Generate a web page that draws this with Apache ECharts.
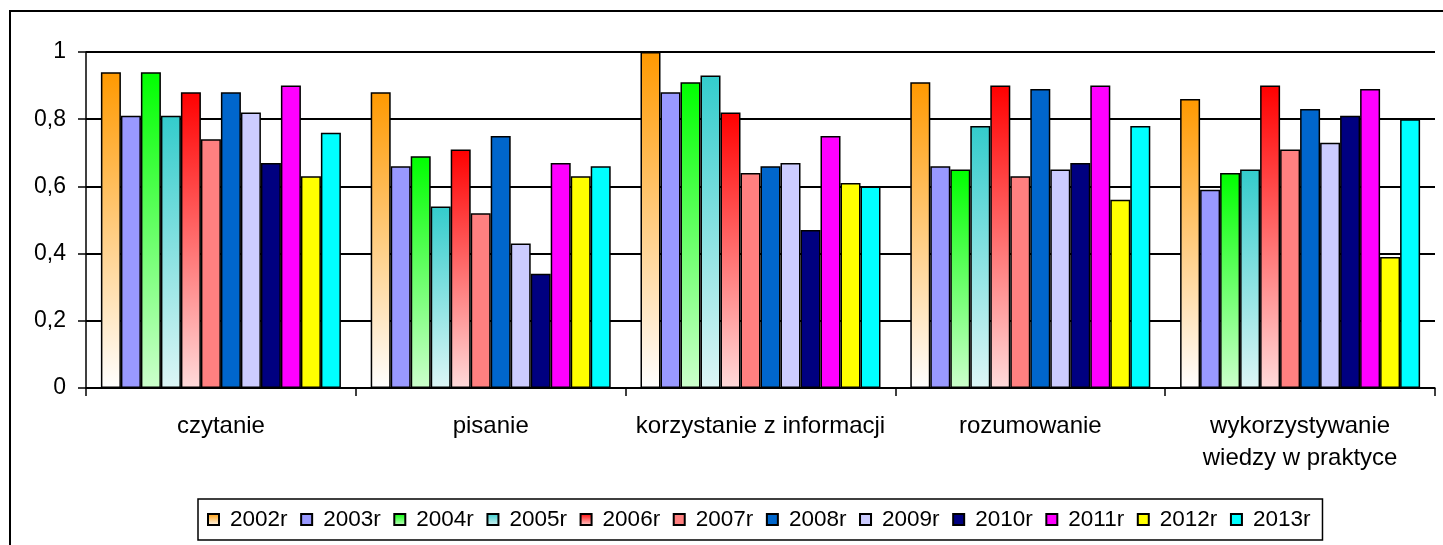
<!DOCTYPE html>
<html>
<head>
<meta charset="utf-8">
<script src="https://cdn.jsdelivr.net/npm/echarts@6/dist/echarts.min.js"></script>
<style>
  html, body { margin: 0; padding: 0; background: #fff; }
  #chart { width: 1443px; height: 545px; }
</style>
</head>
<body>
<div id="chart"></div>
<script>
// kategorie i lata
const categories = ['czytanie', 'pisanie', 'korzystanie z informacji', 'rozumowanie', 'wykorzystywanie\nwiedzy w praktyce'];
const years = ['2002r', '2003r', '2004r', '2005r', '2006r', '2007r', '2008r', '2009r', '2010r', '2011r', '2012r', '2013r'];
const yTicks = [0, 0.2, 0.4, 0.6, 0.8, 1];

// wartosci dla kazdego roku (kolejnosc jak categories)
const v2002 = [0.94, 0.88, 1.00, 0.91, 0.86];
const v2003 = [0.81, 0.66, 0.88, 0.66, 0.59];
const v2004 = [0.94, 0.69, 0.91, 0.65, 0.64];
const v2005 = [0.81, 0.54, 0.93, 0.78, 0.65];
const v2006 = [0.88, 0.71, 0.82, 0.90, 0.90];
const v2007 = [0.74, 0.52, 0.64, 0.63, 0.71];
const v2008 = [0.88, 0.75, 0.66, 0.89, 0.83];
const v2009 = [0.82, 0.43, 0.67, 0.65, 0.73];
const v2010 = [0.67, 0.34, 0.47, 0.67, 0.81];
const v2011 = [0.90, 0.67, 0.75, 0.90, 0.89];
const v2012 = [0.63, 0.63, 0.61, 0.56, 0.39];
const v2013 = [0.76, 0.66, 0.60, 0.78, 0.80];
const values = [v2002, v2003, v2004, v2005, v2006, v2007, v2008, v2009, v2010, v2011, v2012, v2013];

function grad(top, bottom) {
    return {
        type: 'linear', x: 0, y: 0, x2: 0, y2: 1,
        colorStops: [{ offset: 0, color: top }, { offset: 1, color: bottom }]
    };
}

// kolory serii (niektore z gradientem jak w Excelu)
const colors = [
    grad('#FF9900', '#FFFFFF'),
    '#9999FF',
    grad('#00FF00', '#CCFFCC'),
    grad('#33CCCC', '#DDF6F6'),
    grad('#FF0000', '#FFDADA'),
    '#FF8080',
    '#0066CC',
    '#CCCCFF',
    '#000080',
    '#FF00FF',
    '#FFFF00',
    '#00FFFF'
];

const font = '"Liberation Sans", Arial, sans-serif';

const chart = echarts.init(document.getElementById('chart'));

const series = years.map((name, i) => ({
    name: name,
    type: 'bar',
    data: values[i],
    barWidth: 20,
    barGap: '0%',
    itemStyle: { color: colors[i], borderColor: '#000', borderWidth: 1.5 },
    emphasis: { disabled: true }
}));

const option = {
    animation: false,
    backgroundColor: '#fff',
    textStyle: { fontFamily: font },
    grid: { left: 86, right: 8, top: 52, bottom: 157 },
    graphic: [{
        type: 'rect',
        shape: { x: 10, y: 11, width: 1600, height: 700 },
        style: { fill: null, stroke: '#000', lineWidth: 2 },
        silent: true
    }],
    legend: {
        data: years,
        left: 198,
        top: 499,
        padding: [8, 12, 8, 9],
        itemGap: 12.6,
        itemWidth: 11,
        itemHeight: 11,
        borderColor: '#000',
        borderWidth: 1.5,
        icon: 'rect',
        textStyle: { fontSize: 22.5, color: '#000', fontFamily: font, padding: [0, 0, 0, 6], lineHeight: 25 }
    },
    xAxis: {
        type: 'category',
        data: categories,
        axisLine: { lineStyle: { color: '#000', width: 1.5 } },
        axisTick: { show: true, length: 8, lineStyle: { color: '#000', width: 1.5 } },
        axisLabel: { color: '#000', fontSize: 24, fontFamily: font, margin: 22, lineHeight: 32, interval: 0 }
    },
    yAxis: {
        type: 'value',
        min: 0,
        max: 1,
        interval: 0.2,
        axisLine: { show: true, lineStyle: { color: '#000', width: 1.5 } },
        axisTick: { show: true, length: 8, lineStyle: { color: '#000', width: 1.5 } },
        splitLine: { lineStyle: { color: '#000', width: 1.8 } },
        axisLabel: {
            color: '#000', fontSize: 23, fontFamily: font, margin: 20,
            formatter: v => String(+v.toFixed(1)).replace('.', ',')
        }
    },
    series: series
};

chart.setOption(option);
</script>
</body>
</html>
